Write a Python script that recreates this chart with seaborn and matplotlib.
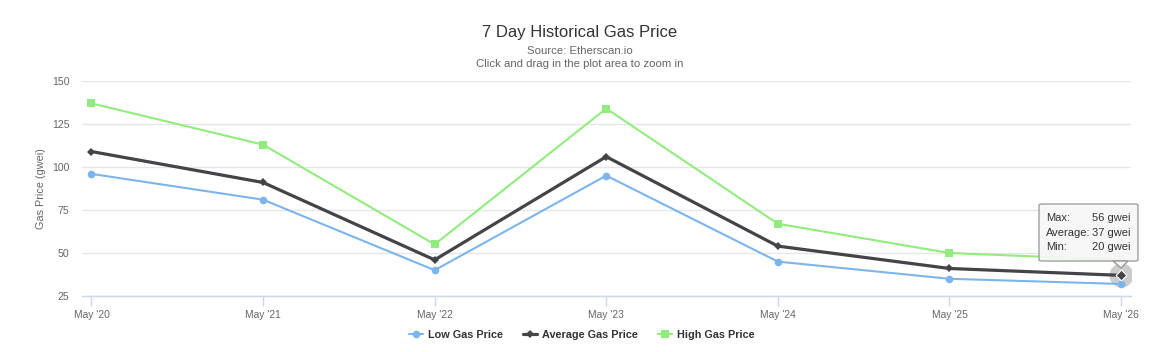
import matplotlib
matplotlib.use("Agg")
import matplotlib.pyplot as plt
import seaborn as sns
import pandas as pd
from matplotlib.patches import FancyBboxPatch, Polygon

categories = ["May '20", "May '21", "May '22", "May '23", "May '24", "May '25", "May '26"]
low_price = [96, 81, 40, 95, 45, 35, 32]
avg_price = [109, 91, 46, 106, 54, 41, 37]
high_price = [137, 113, 55, 134, 67, 50, 46]
y_ticks = [25, 50, 75, 100, 125, 150]
tooltip_rows = [("Max:", "56 gwei"), ("Average:", "37 gwei"), ("Min:", "20 gwei")]

sns.set_theme(style="white")
plt.rcParams['font.family'] = ['Liberation Sans', 'DejaVu Sans']

fig = plt.figure(figsize=(11.59, 3.52), dpi=100)
ax = fig.add_axes([82/1159, 1-296/352, (1131-82)/1159, (296-81)/352])

x = list(range(len(categories)))
series = [
    ("Low Gas Price", low_price, "#7cb5ec", "o", 1.5, 5.5),
    ("Average Gas Price", avg_price, "#434348", "D", 2.3, 4.2),
    ("High Gas Price", high_price, "#90ed7d", "s", 1.5, 5.5),
]
for name, vals, color, marker, lw, ms in series:
    df = pd.DataFrame({"x": x, "y": vals})
    sns.lineplot(data=df, x="x", y="y", ax=ax, color=color, linewidth=lw,
                 marker=marker, markersize=ms, markeredgewidth=0,
                 markeredgecolor=color, label=name, zorder=3)

# hover halo on last average point
ax.scatter([x[-1]], [avg_price[-1]], s=300, color="#aaaaaa", alpha=0.6, zorder=2, linewidths=0)
ax.scatter([x[-1]], [avg_price[-1]], s=30, marker="D", color="#434348", zorder=4,
           edgecolors="white", linewidths=0.8)

ax.set_xlim(-0.055, 6.058)
ax.set_ylim(25, 150)
ax.set_xticks(x)
ax.set_xticklabels(categories)
ax.set_yticks(y_ticks)
ax.tick_params(axis='x', colors="#ccd6eb", labelcolor="#666666", labelsize=7.4,
               length=7, width=1, direction='out', bottom=True, pad=3)
ax.tick_params(axis='y', labelcolor="#666666", labelsize=7.6, length=0, pad=9)
ax.grid(axis='y', color="#e6e6e6", linewidth=1)
ax.set_axisbelow(True)
for s in ["top", "right", "left"]:
    ax.spines[s].set_visible(False)
ax.spines["bottom"].set_color("#ccd6eb")
ax.spines["bottom"].set_linewidth(1)
ax.set_xlabel("")
ax.set_ylabel("Gas Price (gwei)", color="#666666", fontsize=7.8, labelpad=4)

handles, labels = ax.get_legend_handles_labels()
ax.get_legend().remove()
leg = fig.legend(handles, labels, loc="center", bbox_to_anchor=(0.502, 1-335/352), ncol=3,
                 frameon=False, fontsize=7.8, handlelength=1.3, columnspacing=1.8,
                 handletextpad=0.5)
for t in leg.get_texts():
    t.set_color("#333333")
    t.set_fontweight("bold")

fig.text(0.5, 1-32/352, "7 Day Historical Gas Price", ha="center", va="center",
         fontsize=12, color="#333333")
fig.text(0.5, 1-51/352, "Source: Etherscan.io", ha="center", va="center",
         fontsize=8.2, color="#666666")
fig.text(0.5, 1-64/352, "Click and drag in the plot area to zoom in", ha="center",
         va="center", fontsize=8.2, color="#666666")

# tooltip
bx0, by0, bx1, by1 = 1039, 204, 1138, 261
box = FancyBboxPatch((bx0/1159, 1-by1/352), (bx1-bx0)/1159, (by1-by0)/352,
                     boxstyle="round,pad=0,rounding_size=0.003", transform=fig.transFigure,
                     facecolor="#f7f7f7", edgecolor="#999999", linewidth=1, alpha=0.92, zorder=10)
fig.add_artist(box)
ptr = Polygon([((1113)/1159, 1-by1/352), (1121/1159, 1-268/352), (1128/1159, 1-by1/352)],
              closed=True, transform=fig.transFigure, facecolor="#f7f7f7",
              edgecolor="#999999", linewidth=1, zorder=10)
fig.add_artist(ptr)
for i, (k, v) in enumerate(tooltip_rows):
    yy = 1-(218+14.5*i)/352
    fig.text(1046/1159, yy, k, ha="left", va="center", fontsize=8, color="#333333", zorder=11)
    fig.text(1131/1159, yy, v, ha="right", va="center", fontsize=8, color="#333333", zorder=11)

fig.savefig("out.png", dpi=100)
